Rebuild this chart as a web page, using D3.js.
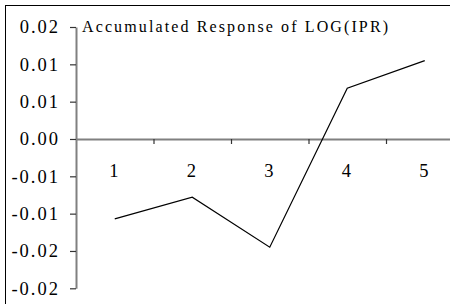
<!DOCTYPE html>
<html>
  <head>
    <meta charset="utf-8">
    <title>Accumulated Response of LOG(IPR)</title>
    <script src="https://cdn.jsdelivr.net/npm/d3@7"></script>
    <style>
      body { margin: 0; background: #fff; }
      svg { display: block; font-family: "Liberation Serif", "Times New Roman", serif; }
      .axis path { stroke: #808080; stroke-width: 2; }
      .axis line { stroke: #333; stroke-width: 1.2; }
      .axis text {
        fill: #000;
        font-family: "Liberation Serif", "Times New Roman", serif;
        font-size: 18.5px;
        letter-spacing: 2px;
      }
    </style>
  </head>
  <body>
    <svg id="chart" width="450" height="304"></svg>

    <script>
      // data
      var periods = [1, 2, 3, 4, 5];
      var response = [-0.0107, -0.0078, -0.0145, 0.0068, 0.0105];
      var yTicks = [-0.02, -0.015, -0.01, -0.005, 0, 0.005, 0.01, 0.015];
      var yTickLabels = ["-0.02", "-0.02", "-0.01", "-0.01", "0.00", "0.01", "0.01", "0.02"];
      var title = "Accumulated Response of LOG(IPR)";

      var chart = d3.select("#chart");

      // frame (only top and left edges fall inside the picture)
      chart.append("rect")
        .attr("x", 5.5)
        .attr("y", 5.5)
        .attr("width", 470)
        .attr("height", 320)
        .attr("fill", "none")
        .attr("stroke", "#000");

      // scales
      var x = d3.scaleBand()
        .domain(periods)
        .range([76, 463.5]);
      var xEdge = d3.scaleLinear()
        .domain([0.5, 5.5])
        .range([76, 463.5]);
      var y = d3.scaleLinear()
        .domain([-0.02, 0.015])
        .range([288.3, 27]);

      // y axis
      var yAxis = d3.axisLeft(y)
        .tickValues(yTicks)
        .tickSize(6)
        .tickSizeOuter(0)
        .tickPadding(10)
        .tickFormat(function(d, i) {
          return yTickLabels[i];
        });
      chart.append("g")
        .attr("class", "axis")
        .attr("transform", "translate(76, 0)")
        .call(yAxis);

      // x axis: tick marks between categories
      var xAxisTicks = d3.axisBottom(xEdge)
        .tickValues([1.5, 2.5, 3.5, 4.5])
        .tickSize(5)
        .tickSizeOuter(0)
        .tickFormat("");
      chart.append("g")
        .attr("class", "axis")
        .attr("transform", "translate(0, " + y(0) + ")")
        .call(xAxisTicks);

      // x axis: category labels
      var xAxisLabels = d3.axisBottom(x)
        .tickSize(0)
        .tickPadding(25);
      var xLabels = chart.append("g")
        .attr("class", "axis")
        .attr("transform", "translate(0, " + y(0) + ")")
        .call(xAxisLabels);
      xLabels.select(".domain").remove();

      // response line
      var line = d3.line()
        .x(function(d, i) {
          return x(periods[i]) + x.bandwidth() / 2;
        })
        .y(function(d) {
          return y(d);
        });
      chart.append("path")
        .datum(response)
        .attr("d", line)
        .attr("fill", "none")
        .attr("stroke", "#000")
        .attr("stroke-width", 1.2);

      // title
      chart.append("text")
        .attr("x", 82)
        .attr("y", 32)
        .attr("textLength", 306)
        .attr("lengthAdjust", "spacing")
        .style("font-size", "16px")
        .text(title);
    </script>
  </body>
</html>
